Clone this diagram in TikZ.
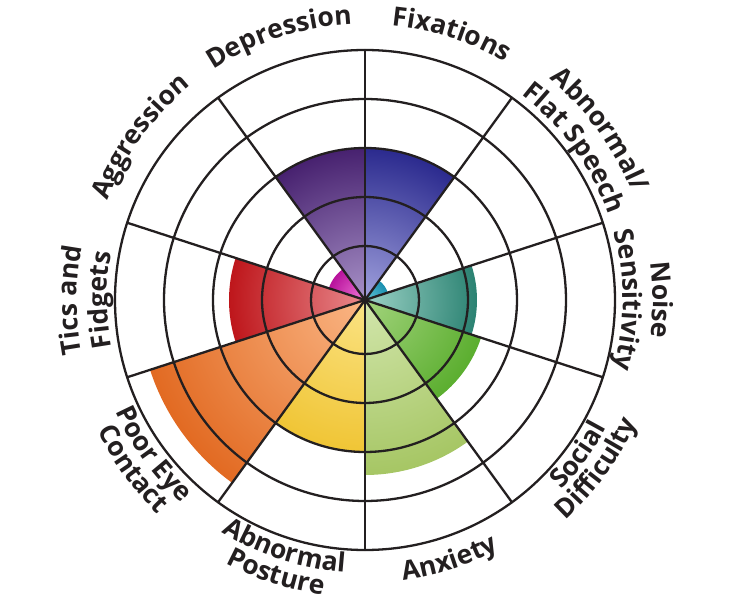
\documentclass[tikz,border=0pt]{standalone}
\usepackage{fontspec}
\setmainfont{Open Sans}
\usetikzlibrary{decorations.text}

\definecolor{gridline}{HTML}{231F20}
\definecolor{fixIn}{HTML}{A0A1DD}
\definecolor{fixOut}{HTML}{2B2A8E}
\definecolor{depIn}{HTML}{A892C8}
\definecolor{depOut}{HTML}{47216F}
\definecolor{aggIn}{HTML}{F27AD9}
\definecolor{aggOut}{HTML}{B8129C}
\definecolor{ticIn}{HTML}{E98A8E}
\definecolor{ticOut}{HTML}{BE161B}
\definecolor{eyeIn}{HTML}{FAB685}
\definecolor{eyeOut}{HTML}{E26A22}
\definecolor{posIn}{HTML}{FBE384}
\definecolor{posOut}{HTML}{F0C535}
\definecolor{anxIn}{HTML}{D2E6AC}
\definecolor{anxOut}{HTML}{A6C664}
\definecolor{socIn}{HTML}{A2D37C}
\definecolor{socOut}{HTML}{5BAE2F}
\definecolor{noiIn}{HTML}{9CD2C6}
\definecolor{noiOut}{HTML}{2B8272}
\definecolor{spkIn}{HTML}{66C6D6}
\definecolor{spkOut}{HTML}{1A8FB0}

\newcommand{\lblfont}{\bfseries\fontsize{26.5}{30}\selectfont}

\tikzset{
  ring/.style={draw=gridline, line width=2.3pt},
  spoke/.style={draw=gridline, line width=2.3pt, line cap=round},
  toplabel/.style={decorate, decoration={text along path, text align=center,
      text color=gridline, text={|\lblfont|#1}}},
  botlabel/.style={toplabel={#1}}
}

\begin{document}
\begin{tikzpicture}[x=1pt,y=1pt]
    \useasboundingbox (-365,-300) rectangle (367,300);
    %% Draw the coloured sectors
    \foreach \s/\r/\ci/\co in {54/152/fixIn/fixOut, 90/152/depIn/depOut,
        126/38/aggIn/aggOut, 162/136/ticIn/ticOut, 198/226/eyeIn/eyeOut,
        234/152/posIn/posOut, 270/175/anxIn/anxOut, 306/122/socIn/socOut,
        342/112/noiIn/noiOut, 18/24/spkIn/spkOut}{
      \begin{scope}
        \clip (0,0) -- (\s:\r) arc[start angle=\s, end angle=\s+36, radius=\r] -- cycle;
        \shade[inner color=\ci, outer color=\co] (0,0) circle[radius=\r];
      \end{scope}
    }
    %% Draw the rings and spokes
    \foreach \r in {54,103,152,201,250}
      \draw[ring] (0,0) circle[radius=\r];
    \foreach \a in {18,54,...,342}
      \draw[spoke] (0,0) -- (\a:250);
    %% Draw the labels (top half, reading clockwise)
    \path[toplabel={Fixations}] (122:276) arc[start angle=122, end angle=22, radius=276];
    \path[toplabel={Depression}] (158:276) arc[start angle=158, end angle=58, radius=276];
    \path[toplabel={Aggression}] (194:276) arc[start angle=194, end angle=94, radius=276];
    \path[toplabel={Abnormal/}] (86:288) arc[start angle=86, end angle=-14, radius=288];
    \path[toplabel={Flat Speech}] (86:258) arc[start angle=86, end angle=-14, radius=258];
    \path[toplabel={Noise}] (50:288) arc[start angle=50, end angle=-50, radius=288];
    \path[toplabel={Sensitivity}] (50:258) arc[start angle=50, end angle=-50, radius=258];
    \path[toplabel={Tics and}] (230:288) arc[start angle=230, end angle=130, radius=288];
    \path[toplabel={Fidgets}] (230:258) arc[start angle=230, end angle=130, radius=258];
    %% Draw the labels (bottom half, reading anticlockwise)
    \path[botlabel={Anxiety}] (238:283) arc[start angle=238, end angle=338, radius=283];
    \path[botlabel={Abnormal}] (202:273) arc[start angle=202, end angle=302, radius=273];
    \path[botlabel={Posture}] (202:298) arc[start angle=202, end angle=302, radius=298];
    \path[botlabel={Poor Eye}] (166:273) arc[start angle=166, end angle=266, radius=273];
    \path[botlabel={Contact}] (166:298) arc[start angle=166, end angle=266, radius=298];
    \path[botlabel={Social}] (274:273) arc[start angle=274, end angle=374, radius=273];
    \path[botlabel={Difficulty}] (274:298) arc[start angle=274, end angle=374, radius=298];
\end{tikzpicture}
\end{document}
